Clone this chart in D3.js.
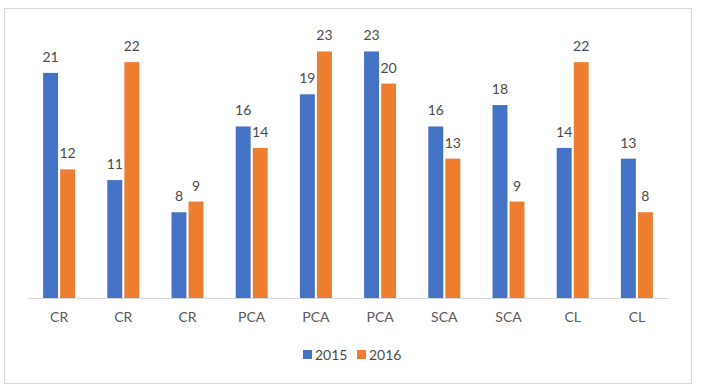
<!DOCTYPE html>
<html>
<head>
<meta charset="utf-8">
<script src="https://cdn.jsdelivr.net/npm/d3@7"></script>
<style>
  body { margin: 0; background: #fff; }
  text { font-family: Lato, "Open Sans", sans-serif; fill: #595959; }
</style>
</head>
<body>
<svg id="chart"></svg>
<script>
// chart data
const categories = ["CR", "CR", "CR", "PCA", "PCA", "PCA", "SCA", "SCA", "CL", "CL"];
const series = ["2015", "2016"];
const values2015 = [21, 11, 8, 16, 19, 23, 16, 18, 14, 13];
const values2016 = [12, 22, 9, 14, 23, 20, 13, 9, 22, 8];
const colors = ["#4472C4", "#ED7D31"];

const width = 702, height = 389;
const margin = { top: 30, right: 33, bottom: 91, left: 27 };
const innerW = width - margin.left - margin.right;
const innerH = height - margin.top - margin.bottom;

const svg = d3.select("#chart").attr("width", width).attr("height", height);

// outer border
svg.append("rect")
  .attr("x", 4.5).attr("y", 8.5)
  .attr("width", 687).attr("height", 375)
  .attr("fill", "none")
  .attr("stroke", "#d9d9d9")
  .attr("stroke-width", 1);

const chart = svg.append("g")
  .attr("transform", `translate(${margin.left},${margin.top})`);

const idx = categories.map((d, i) => i);
const xScale = d3.scaleBand().domain(idx).range([0, innerW]);
const xInner = d3.scaleBand().domain(series).range([xScale.bandwidth() / 2 - 16, xScale.bandwidth() / 2 + 16]).paddingInner(0.125);
const yScale = d3.scaleLinear().domain([0, 25]).range([innerH, 0]);

const data = idx.map(i => ({
  i,
  vals: [
    { key: "2015", v: values2015[i] },
    { key: "2016", v: values2016[i] }
  ]
}));

const groups = chart.selectAll(".grp")
  .data(data)
  .enter()
  .append("g")
  .attr("class", "grp")
  .attr("transform", d => `translate(${xScale(d.i)},0)`);

groups.selectAll("rect")
  .data(d => d.vals)
  .enter()
  .append("rect")
  .attr("x", d => xInner(d.key))
  .attr("width", xInner.bandwidth())
  .attr("y", d => yScale(d.v))
  .attr("height", d => innerH - yScale(d.v))
  .attr("fill", (d, j) => colors[j]);

// value labels above the bars
groups.selectAll(".lbl")
  .data(d => d.vals)
  .enter()
  .append("text")
  .attr("class", "lbl")
  .attr("x", d => xInner(d.key) + xInner.bandwidth() / 2)
  .attr("y", d => yScale(d.v) - 11)
  .attr("text-anchor", "middle")
  .attr("font-size", 14)
  .style("fill", "#4a4a4a")
  .text(d => d.v);

// x axis
const xAxis = d3.axisBottom(xScale)
  .tickFormat(i => categories[i])
  .tickSize(0)
  .tickPadding(14);

const xAxisG = chart.append("g")
  .attr("transform", `translate(0,${innerH})`)
  .call(xAxis);
xAxisG.select(".domain").attr("stroke", "#d9d9d9");
xAxisG.selectAll("text")
  .attr("font-size", 14)
  .attr("font-family", "Lato, sans-serif")
  .attr("fill", "#4a4a4a");

// legend
const legend = svg.append("g").attr("transform", "translate(303,350)");
const li = legend.selectAll("g")
  .data(series)
  .enter()
  .append("g")
  .attr("transform", (d, i) => `translate(${i * 54},0)`);
li.append("rect")
  .attr("width", 9).attr("height", 9)
  .attr("fill", (d, i) => colors[i]);
li.append("text")
  .attr("x", 12)
  .attr("y", 9.5)
  .attr("font-size", 14)
  .style("fill", "#4a4a4a")
  .text(d => d);
</script>
</body>
</html>
